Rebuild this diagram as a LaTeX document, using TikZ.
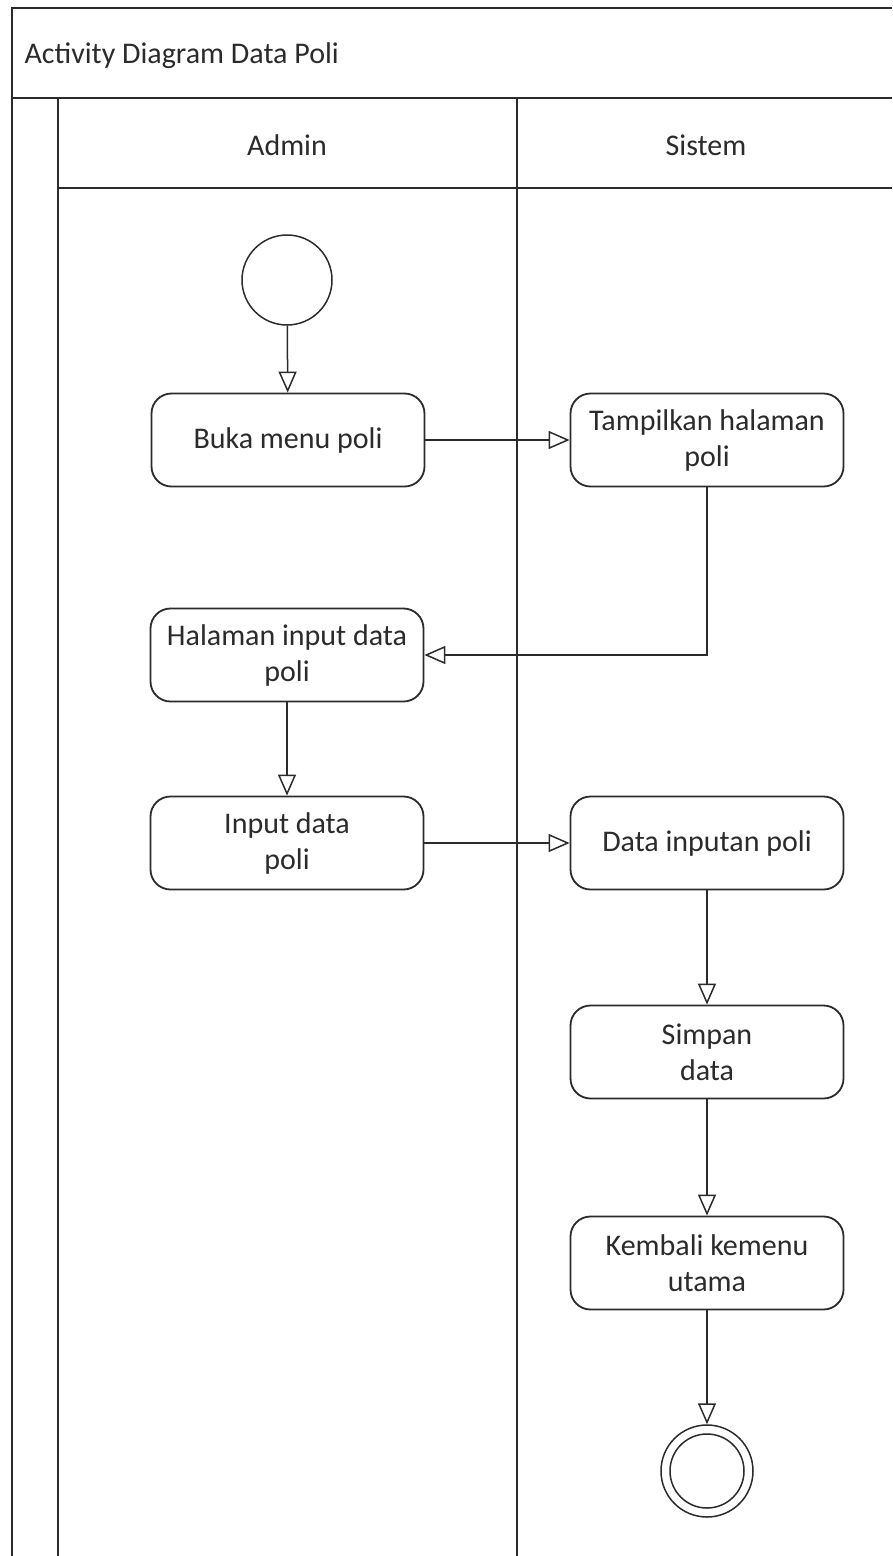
\documentclass[tikz,border=0pt]{standalone}
\usepackage{fontspec}
\setmainfont{Carlito}
\usetikzlibrary{arrows.meta}
\definecolor{ink}{HTML}{2B2B2B}
\begin{document}
\begin{tikzpicture}[x=1pt,y=-1pt,
  every node/.style={font=\fontsize{30}{36}\selectfont, text=ink},
  frame/.style={draw=ink, line width=2.2pt},
  action/.style={draw=ink, line width=1.8pt, rounded corners=20pt, fill=white,
    minimum width=273pt, minimum height=93pt, align=center, inner sep=2pt},
  initial/.style={draw=ink, line width=1.5pt, circle, minimum size=90pt, inner sep=0pt},
  final/.style={draw=ink, line width=1.5pt, circle, minimum size=92pt, inner sep=0pt},
  flow/.style={draw=ink, line width=1.5pt,
    -{Triangle[open, length=21pt, width=18pt, line width=1.5pt]}},
]
\useasboundingbox (0,0) rectangle (892,1556);

% swimlane frame
\draw[frame] (12,1556) -- (12,8) -- (892,8);
\draw[frame] (12,98) -- (892,98);
\draw[frame] (58,98) -- (58,1556);
\draw[frame] (58,188) -- (892,188);
\draw[frame] (517,98) -- (517,1556);

\node[anchor=base west] (title) at (21,63) {Activity Diagram Data Poli};
\node (admin) at (287,145) {Admin};
\node (sistem) at (706,145) {Sistem};

% activities
\node[initial] (start) at (287,280) {};
\node[action] (buka) at (288,440) {Buka menu poli};
\node[action] (tampil) at (707,440) {Tampilkan halaman\\poli};
\node[action] (halaman) at (287,655) {Halaman input data\\poli};
\node[action] (input) at (287,843) {Input data\\poli};
\node[action] (datain) at (707,843) {Data inputan poli};
\node[action] (simpan) at (707,1052) {Simpan\\data};
\node[action] (kembali) at (707,1263) {Kembali kemenu\\utama};
\node[final] (end) at (707,1471) {};
\draw[ink, line width=1.5pt] (end.center) circle[radius=37pt];

% control flows
\draw[flow] (start) -- (buka);
\draw[flow] (buka) -- (tampil);
\draw[flow] (tampil.south) |- (halaman.east);
\draw[flow] (halaman) -- (input);
\draw[flow] (input) -- (datain);
\draw[flow] (datain) -- (simpan);
\draw[flow] (simpan) -- (kembali);
\draw[flow] (kembali) -- (end);
\end{tikzpicture}
\end{document}
